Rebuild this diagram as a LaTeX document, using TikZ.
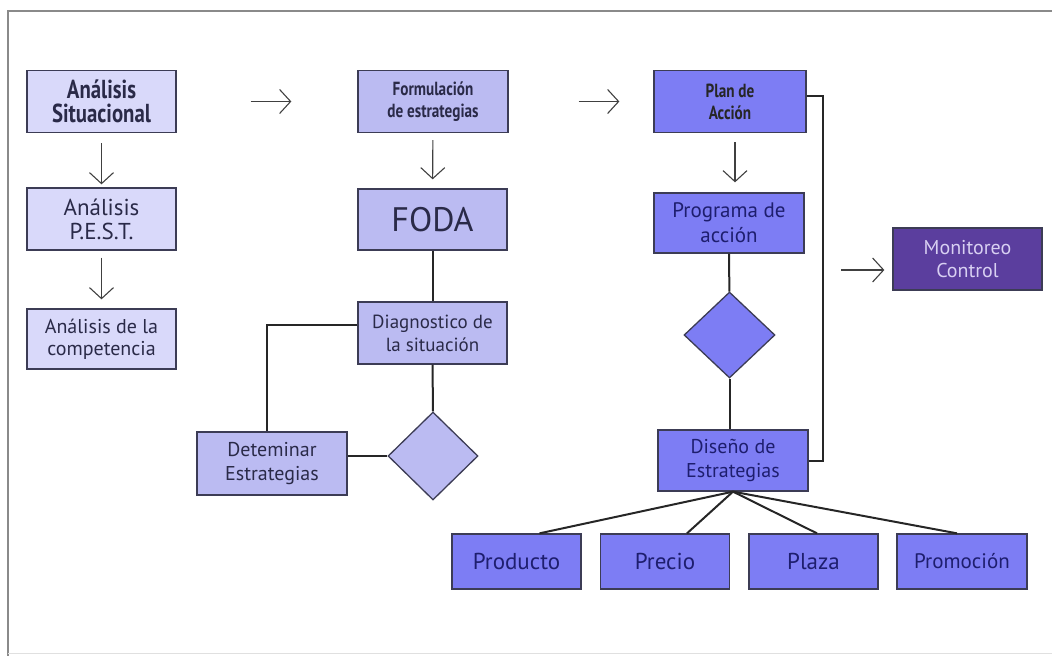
\documentclass[tikz,border=0pt]{standalone}
\usepackage{fontspec}
\setmainfont{PT Sans}
\newfontfamily\condfont{PT Sans}[FakeStretch=0.8]
\usetikzlibrary{shapes.geometric,arrows.meta}

\definecolor{lilaa}{HTML}{D9D9FA}
\definecolor{lilab}{HTML}{BBBBF2}
\definecolor{lilac}{HTML}{7D7DF4}
\definecolor{morado}{HTML}{5B3E9E}
\definecolor{borde}{HTML}{3C3C55}
\definecolor{tinta}{HTML}{2A2A48}
\definecolor{azul}{HTML}{1E1E6E}
\definecolor{claro}{HTML}{D8D0F2}
\definecolor{gris}{HTML}{8A8A8A}

\begin{document}
\begin{tikzpicture}[x=1pt,y=-1pt]
              \tikzstyle{every node}+=[inner sep=0pt, align=center]
              \tikzstyle{caja}=[draw=borde, line width=1.3pt, minimum width=149pt, minimum height=62pt]
              \tikzstyle{cajaa}=[caja, fill=lilaa, text=tinta]
              \tikzstyle{cajab}=[caja, fill=lilab, text=tinta]
              \tikzstyle{cajac}=[caja, fill=lilac, text=azul]
              \tikzstyle{cajafin}=[caja, fill=lilac, text=azul, minimum width=129pt, minimum height=55pt]
              \tikzstyle{rombo}=[diamond, draw=borde, line width=1.3pt, minimum width=90pt, minimum height=88pt]
              \tikzstyle{flecha}=[-{Straight Barb[length=11pt,width=24pt]}, line width=1.1pt, draw=black!75]
              \tikzstyle{linea}=[line width=2pt, draw=black!85]
              \useasboundingbox (0,0) rectangle (1052,660);
              % marco
              \draw [gris, line width=2pt] (1052,11) -- (8,11) -- (8,656);
              \draw [black!12, line width=1pt] (8,653) -- (1052,653);
              % analisis
              \node [cajaa, font=\condfont\bfseries\fontsize{26}{24}\selectfont] (sit) at (101.5,101.5) {Análisis\\Situacional};
              \node [cajaa, font=\fontsize{23}{24}\selectfont] (pest) at (101.5,219) {Análisis\\P.E.S.T.};
              \node [cajaa, font=\fontsize{20}{22}\selectfont, minimum height=60pt] (comp) at (101.5,339) {Análisis de la\\competencia};
              % formulacion
              \node [cajab, font=\condfont\bfseries\fontsize{19}{22}\selectfont, minimum width=150pt] (form) at (433,101.5) {Formulación\\de estrategias};
              \node [cajab, font=\fontsize{34}{34}\selectfont, minimum height=61pt] (foda) at (432.5,219.5) {FODA};
              \node [cajab, font=\fontsize{19}{23}\selectfont] (diag) at (432.5,333) {Diagnostico de\\la situación};
              \node [cajab, font=\fontsize{20}{24}\selectfont, minimum width=150pt, minimum height=63pt] (det) at (272,463.5) {Deteminar\\Estrategias};
              \node [rombo, fill=lilab] (rom1) at (433,456) {};
              % plan
              \node [cajac, font=\condfont\bfseries\fontsize{19}{22}\selectfont, minimum width=152pt, text=black!85] (plan) at (730,101.5) {Plan de\\Acción};
              \node [cajac, font=\fontsize{21}{25}\selectfont, minimum width=150pt, minimum height=60pt] (prog) at (729,223) {Programa de\\acción};
              \node [rombo, fill=lilac, minimum width=91pt, minimum height=86pt] (rom2) at (729.5,335) {};
              \node [cajac, font=\fontsize{20}{24}\selectfont, minimum width=150pt, minimum height=61pt] (dis) at (733,460.5) {Diseño de\\Estrategias};
              \node [cajafin, font=\fontsize{23}{24}\selectfont] (prod) at (516.5,561.5) {Producto};
              \node [cajafin, font=\fontsize{23}{24}\selectfont] (prec) at (665,561.5) {Precio};
              \node [cajafin, font=\fontsize{23}{24}\selectfont] (plaz) at (813.5,561.5) {Plaza};
              \node [cajafin, font=\fontsize{21}{24}\selectfont, minimum width=130pt] (prom) at (962,561.5) {Promoción};
              \node [caja, fill=morado, text=claro, font=\fontsize{20}{23}\selectfont] (mon) at (967.5,259) {Monitoreo\\Control};
              % flechas
              \draw [flecha, shorten <=74pt, shorten >=66pt] (sit) -- (form);
              \draw [flecha, shorten <=70pt, shorten >=34pt] (form) -- (plan);
              \draw [flecha, shorten <=10pt, shorten >=3pt] (sit) -- (pest);
              \draw [flecha, shorten <=7pt, shorten >=9pt] (pest) -- (comp);
              \draw [flecha, shorten <=7pt, shorten >=9pt] (form) -- (foda);
              \draw [flecha, shorten <=9pt, shorten >=10pt] ([xshift=5pt]plan.south) -- ([xshift=6pt]prog.north);
              \coordinate (monin) at (841,270);
              \draw [flecha, shorten >=8pt] (monin) -- (mon.west |- monin);
              % lineas
              \draw [linea] (foda) -- (diag);
              \draw [linea] ([yshift=8pt]diag.west) -| ([xshift=-5pt]det.north);
              \draw [linea] (diag.south) -- (rom1.north);
              \draw [linea] (rom1.west) -- (det.east |- rom1.west);
              \draw [linea] (prog) -- (rom2);
              \draw [linea] (rom2.south) -- (rom2.south |- dis.north);
              \draw [linea] ([yshift=5.5pt]plan.east) -- ++(16,0) |- (dis.east);
              \draw [linea] (dis.south) -- ([xshift=23pt]prod.north);
              \draw [linea] (dis.south) -- ([xshift=22pt]prec.north);
              \draw [linea] (dis.south) -- ([xshift=3.5pt]plaz.north);
              \draw [linea] (dis.south) -- ([xshift=-5pt]prom.north);
            \end{tikzpicture}
\end{document}
